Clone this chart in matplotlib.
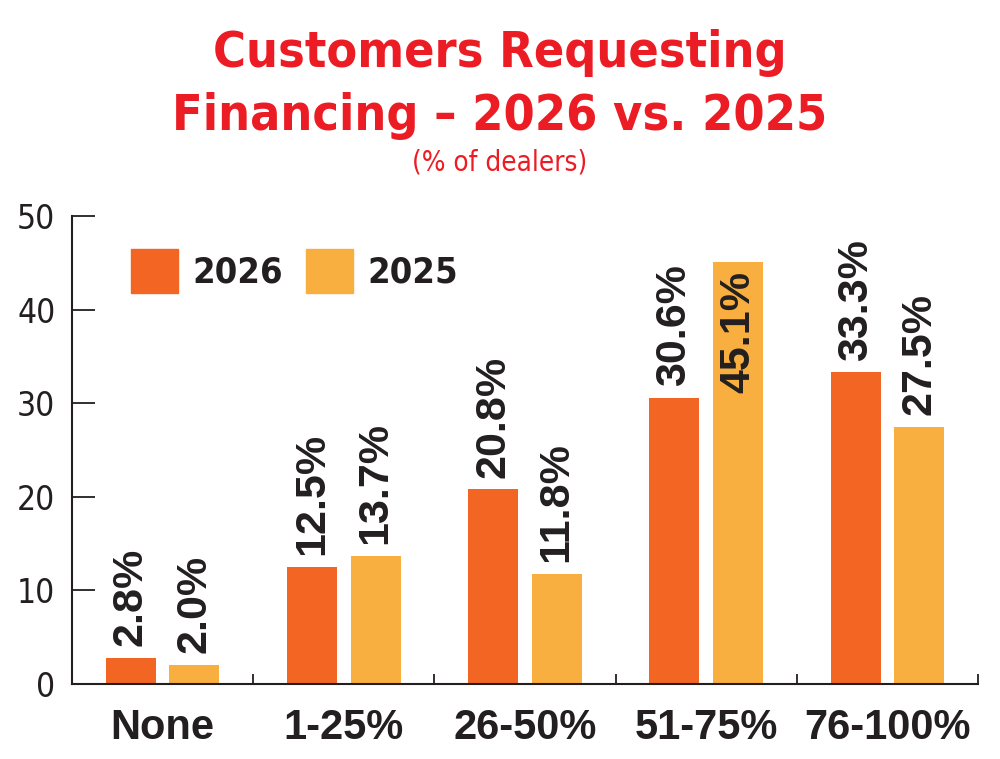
import matplotlib
matplotlib.use("Agg")
import matplotlib.pyplot as plt
import numpy as np
from matplotlib.patches import Patch

categories = ["None", "1-25%", "26-50%", "51-75%", "76-100%"]
values_2026 = [2.8, 12.5, 20.8, 30.6, 33.3]
values_2025 = [2.0, 13.7, 11.8, 45.1, 27.5]
series_names = ["2026", "2025"]
y_ticks = [0, 10, 20, 30, 40, 50]

c_2026 = "#F26522"
c_2025 = "#F9AE40"
c_red = "#EC1C24"
c_text = "#231F20"

# condensed face for title / legend / y ticks, Arial-like bold for the rest
cond = dict(family="DejaVu Sans", stretch="condensed")
bold = ["Liberation Sans", "DejaVu Sans"]

fig = plt.figure(figsize=(10, 7.59), dpi=100)
ax = fig.add_axes([0.072, 0.0988, 0.906, 0.6166])

x = np.arange(len(categories))
width = 0.276
offset = 0.175

bars_a = ax.bar(x - offset, values_2026, width, color=c_2026, zorder=2)
bars_b = ax.bar(x + offset, values_2025, width, color=c_2025, zorder=2)

# value labels, rotated; the tallest one sits inside its bar
for bars, vals in [(bars_a, values_2026), (bars_b, values_2025)]:
    for b, v in zip(bars, vals):
        cx = b.get_x() + b.get_width() / 2
        if v > 40:
            ax.annotate(f"{v:.1f}%", (cx, v), xytext=(0, -6.5), textcoords="offset points",
                        rotation=90, ha="center", va="top", fontsize=31,
                        fontweight="bold", family=bold, color=c_text, zorder=3)
        else:
            ax.annotate(f"{v:.1f}%", (cx, v), xytext=(0, 8.5), textcoords="offset points",
                        rotation=90, ha="center", va="bottom", fontsize=31,
                        fontweight="bold", family=bold, color=c_text, zorder=3)

ax.set_xlim(-0.5, len(categories) - 0.5)
ax.set_ylim(0, 50)
ax.set_yticks(y_ticks)
ax.set_yticklabels([str(t) for t in y_ticks], fontsize=24, color=c_text, **cond)
ax.tick_params(axis="y", direction="in", length=16.5, width=1.3, pad=12, color=c_text)

ax.set_xticks(x)
ax.set_xticklabels(categories, family=bold, fontweight="bold", fontsize=30, color=c_text)
ax.set_xticks(np.arange(len(categories) + 1) - 0.5, minor=True)
ax.tick_params(axis="x", which="major", length=0, pad=17)
ax.tick_params(axis="x", which="minor", direction="in", length=7, width=1.3, color=c_text)

for s in ["top", "right"]:
    ax.spines[s].set_visible(False)
for s in ["left", "bottom"]:
    ax.spines[s].set_linewidth(1.5)
    ax.spines[s].set_color(c_text)

handles = [Patch(color=c_2026), Patch(color=c_2025)]
leg = ax.legend(handles, series_names, loc="upper left", bbox_to_anchor=(0.065, 0.93),
                ncol=2, frameon=False, borderpad=0, borderaxespad=0,
                handlelength=1.3, handleheight=1.5, handletextpad=0.4, columnspacing=0.65,
                prop={"family": "DejaVu Sans", "stretch": "condensed", "weight": "bold", "size": 26})
for t in leg.get_texts():
    t.set_color(c_text)

fig.text(0.5, 1 - 67 / 759, "Customers Requesting", ha="center", va="baseline", color=c_red,
         fontweight="bold", fontsize=36, **cond)
fig.text(0.5, 1 - 130 / 759, "Financing \u2013 2026 vs. 2025", ha="center", va="baseline",
         color=c_red, fontweight="bold", fontsize=36, **cond)
fig.text(0.5, 1 - 171 / 759, "(% of dealers)", ha="center", va="baseline", color=c_red,
         fontsize=20, **cond)

fig.savefig("out.png", dpi=100)
plt.close(fig)
